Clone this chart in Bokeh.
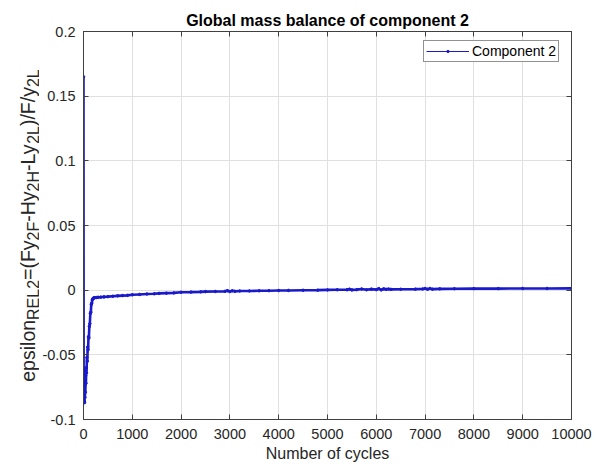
from bokeh.plotting import figure
from bokeh.layouts import row
from bokeh.models import Range1d, FixedTicker, LinearAxis, Legend, LegendItem, ColumnDataSource
from bokeh.core.properties import value
from bokeh.embed import file_html
from bokeh.resources import INLINE

# Relative mass-balance error of component 2 versus cycle number
cycles = [0, 3, 6, 10, 14, 18, 22, 26, 30, 34, 38, 44, 50, 56, 62, 70, 78, 86, 94,
          102, 110, 120, 130, 140, 150, 160, 170, 180, 190, 200, 215, 230, 260, 300,
          350, 420, 500, 600, 700, 800, 900, 1000, 1150, 1300, 1450, 1550, 1700, 1850,
          2000, 2200, 2400, 2500, 2700, 2900, 2950, 3000, 3050, 3100, 3200, 3400, 3600,
          3800, 4000, 4200, 4500, 4800, 5000, 5200, 5400, 5450, 5500, 5600, 5700, 5800,
          5900, 6000, 6050, 6100, 6150, 6200, 6250, 6300, 6500, 6800, 6950, 7000, 7050,
          7100, 7150, 7300, 7600, 8000, 8500, 9000, 9500, 10000]
epsilon_rel2 = [0.165, -0.062, -0.080, -0.071, -0.086, -0.078, -0.087, -0.074, -0.083,
                -0.070, -0.079, -0.066, -0.072, -0.060, -0.064, -0.052, -0.055, -0.044,
                -0.046, -0.036, -0.037, -0.028, -0.026, -0.018, -0.017, -0.011, -0.010,
                -0.0075, -0.0068, -0.0062, -0.0060, -0.0058, -0.0057, -0.0055, -0.0054,
                -0.0052, -0.0050, -0.0047, -0.0044, -0.0042, -0.0040, -0.0036, -0.0033,
                -0.0030, -0.0028, -0.0025, -0.0023, -0.0021, -0.0016, -0.0015, -0.0013,
                -0.0011, -0.0010, -0.0009, -0.0004, -0.0011, -0.0005, -0.0009, -0.0007,
                -0.0006, -0.0005, -0.0004, -0.0003, -0.0002, -0.0001, 0.0000, 0.0002,
                0.0003, 0.0003, 0.0008, 0.0002, 0.0004, 0.0009, 0.0003, 0.0008, 0.0004,
                0.0012, 0.0002, 0.0010, 0.0006, 0.0009, 0.0006, 0.0007, 0.0008, 0.0009,
                0.0013, 0.0007, 0.0013, 0.0008, 0.0010, 0.0011, 0.0012, 0.0012, 0.0013,
                0.0013, 0.0014]

x_ticks = [0, 1000, 2000, 3000, 4000, 5000, 6000, 7000, 8000, 9000, 10000]
x_tick_labels = ["0", "1000", "2000", "3000", "4000", "5000", "6000", "7000", "8000",
                 "9000", "10000"]
y_ticks = [-0.1, -0.05, 0, 0.05, 0.1, 0.15, 0.2]
y_tick_labels = ["-0.1", "-0.05", "0", "0.05", "0.1", "0.15", "0.2"]

title_text = "Global mass balance of component 2"
x_label = "Number of cycles"
series_name = "Component 2"
# y label pieces: (text, is_subscript)
y_label_parts = [("epsilon", False), ("REL2", True), ("=(Fy", False), ("2F", True),
                 ("-Hy", False), ("2H", True), ("-Ly", False), ("2L", True),
                 (")/F/y", False), ("2L", True)]

FONT = "Liberation Sans"
BLUE = "#1a1acc"
INK = "#262626"
W, H = 603, 466
LABEL_W = 39                                   # strip holding the y label
BORDER = dict(left=43, right=32, top=31, bottom=47)
X0, X1 = 0, 10000
Y0, Y1 = -0.1, 0.2

p = figure(width=W - LABEL_W, height=H, output_backend="svg", toolbar_location=None,
           x_range=Range1d(X0, X1), y_range=Range1d(Y0, Y1),
           min_border_left=BORDER["left"], min_border_right=BORDER["right"],
           min_border_top=BORDER["top"], min_border_bottom=BORDER["bottom"])
p.background_fill_color = "white"
p.border_fill_color = "white"
p.outline_line_color = "#404040"
p.outline_line_width = 1

p.title.text = title_text
p.title.text_font = FONT
p.title.text_font_size = "16px"
p.title.text_font_style = "bold"
p.title.text_color = "black"
p.title.align = "center"
p.title.standoff = 5

# data line (dense markers make it look heavy) and point markers
p.line(cycles, epsilon_rel2, line_color=BLUE, line_width=2.6)
p.scatter(cycles, epsilon_rel2, marker="circle", size=2.5, color=BLUE)

# legend entry: thin line with a small dot (proxy renderers hold no visible data)
nan = float("nan")
leg_line = p.line([nan], [nan], line_color=BLUE, line_width=1)
leg_dot = p.scatter([nan], [nan], marker="circle", size=3, color=BLUE)
legend = Legend(items=[LegendItem(label=series_name, renderers=[leg_line, leg_dot])],
                location=(340, 357), orientation="vertical",
                label_text_font=FONT, label_text_font_size="14px",
                label_text_color="black", label_standoff=3,
                glyph_width=43, glyph_height=6, label_height=14,
                padding=2, margin=0, spacing=0,
                border_line_color=INK, border_line_width=1,
                background_fill_color="white", background_fill_alpha=1)
p.add_layout(legend)

x_over = {t: s for t, s in zip(x_ticks, x_tick_labels)}
y_over = {t: s for t, s in zip(y_ticks, y_tick_labels)}

def style_axis(ax, ticks, overrides, show_labels):
    ax.ticker = FixedTicker(ticks=ticks)
    ax.major_label_overrides = overrides
    ax.minor_tick_line_color = None
    ax.major_tick_in = 5
    ax.major_tick_out = 0
    ax.major_tick_line_color = "#404040"
    ax.axis_line_color = "#404040"
    ax.major_label_text_font = FONT
    ax.major_label_text_font_size = "14.5px"
    ax.major_label_text_color = INK
    if not show_labels:
        ax.major_label_text_alpha = 0
        ax.major_label_standoff = 0
        ax.major_label_overrides = {t: "" for t in ticks}

style_axis(p.xaxis[0], x_ticks, x_over, True)
style_axis(p.yaxis[0], y_ticks, y_over, True)
p.xaxis[0].major_label_standoff = 9
p.yaxis[0].major_label_standoff = 8
p.xaxis[0].axis_label = x_label
p.xaxis[0].axis_label_text_font = FONT
p.xaxis[0].axis_label_text_font_size = "16px"
p.xaxis[0].axis_label_text_font_style = "normal"
p.xaxis[0].axis_label_text_color = INK
p.xaxis[0].axis_label_standoff = 3

top_axis = LinearAxis()
style_axis(top_axis, x_ticks, x_over, False)
p.add_layout(top_axis, "above")
right_axis = LinearAxis()
style_axis(right_axis, y_ticks, y_over, False)
p.add_layout(right_axis, "right")

p.grid.grid_line_color = "#e0e0e0"
p.grid.grid_line_width = 1
p.xgrid.ticker = FixedTicker(ticks=x_ticks)
p.ygrid.ticker = FixedTicker(ticks=y_ticks)

# y label strip: a bare figure whose frame lines up with the main frame and whose
# ranges are pixels (x from its left edge, y from the canvas bottom)
lab = figure(width=LABEL_W, height=H, output_backend="svg", toolbar_location=None,
             x_range=Range1d(0, LABEL_W),
             y_range=Range1d(BORDER["bottom"], H - BORDER["top"]),
             x_axis_location=None, y_axis_location=None,
             min_border_left=0, min_border_right=0,
             min_border_top=BORDER["top"], min_border_bottom=BORDER["bottom"])
lab.title = None
lab.grid.visible = False
lab.outline_line_color = None
lab.background_fill_color = "white"
lab.border_fill_color = "white"

# rotated y label with subscripts, composed piece by piece (Arial metrics)
ARIAL_W = {"e": 556, "p": 556, "s": 500, "i": 222, "l": 222, "o": 556, "n": 556,
           "R": 722, "E": 667, "L": 556, "2": 556, "=": 584, "(": 333, "F": 611,
           "y": 500, "-": 333, "H": 722, ")": 333, "/": 278}
MAIN_SIZE, SUB_SIZE = 19.5, 16
MAIN_BASE, SUB_BASE = 27, 33

def text_width(s, size):
    return sum(ARIAL_W[c] for c in s) * size / 1000.0

frame_h = H - BORDER["top"] - BORDER["bottom"]
center_from_bottom = BORDER["bottom"] + frame_h / 2
total = sum(text_width(t, SUB_SIZE if sub else MAIN_SIZE) for t, sub in y_label_parts)
pos = center_from_bottom - total / 2
xs, ys, texts, sizes = [], [], [], []
for t, sub in y_label_parts:
    size = SUB_SIZE if sub else MAIN_SIZE
    xs.append(SUB_BASE if sub else MAIN_BASE)
    ys.append(pos)
    texts.append(t)
    sizes.append(f"{size}px")
    pos += text_width(t, size)
lab.text(x="x", y="y", text="text",
         source=ColumnDataSource(dict(x=xs, y=ys, text=texts, size=sizes)),
         text_font=value(FONT), text_font_size="size", text_color=INK, angle=90,
         angle_units="deg", text_align="left", text_baseline="alphabetic")

open("out.html", "w").write(file_html(row(lab, p), INLINE))
